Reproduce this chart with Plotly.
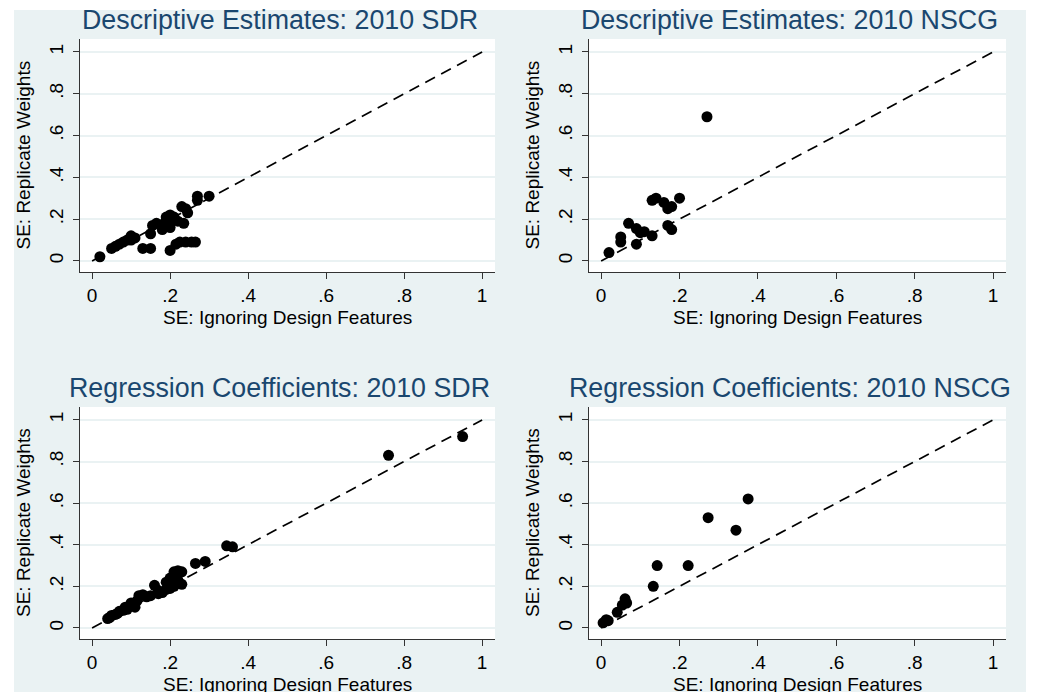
import plotly.graph_objects as go

# ---------------- data ----------------
desc_sdr_x = [0.02, 0.05, 0.06, 0.07, 0.08, 0.09, 0.10, 0.10, 0.11, 0.13, 0.15, 0.15, 0.155, 0.165,
              0.18, 0.185, 0.19, 0.20, 0.20, 0.205, 0.21, 0.20, 0.215, 0.225, 0.24, 0.255, 0.265,
              0.23, 0.24, 0.245, 0.235, 0.27, 0.30, 0.27, 0.22]
desc_sdr_y = [0.02, 0.06, 0.07, 0.08, 0.09, 0.10, 0.12, 0.10, 0.11, 0.06, 0.06, 0.13, 0.17, 0.18,
              0.15, 0.18, 0.21, 0.22, 0.16, 0.20, 0.21, 0.05, 0.08, 0.09, 0.09, 0.09, 0.09,
              0.26, 0.25, 0.23, 0.18, 0.31, 0.31, 0.29, 0.19]

desc_nscg_x = [0.02, 0.05, 0.05, 0.07, 0.09, 0.10, 0.09, 0.11, 0.13, 0.13, 0.14, 0.16, 0.17,
               0.18, 0.20, 0.17, 0.18, 0.27]
desc_nscg_y = [0.04, 0.115, 0.09, 0.18, 0.155, 0.135, 0.08, 0.14, 0.12, 0.29, 0.30, 0.28, 0.25,
               0.26, 0.30, 0.17, 0.15, 0.69]

reg_sdr_x = [0.04, 0.045, 0.05, 0.06, 0.065, 0.07, 0.08, 0.085, 0.09, 0.10, 0.10, 0.11, 0.115,
             0.12, 0.13, 0.14, 0.15, 0.16, 0.17, 0.17, 0.18, 0.19, 0.19, 0.20, 0.20, 0.21, 0.21,
             0.22, 0.22, 0.23, 0.23, 0.265, 0.29, 0.345, 0.36, 0.76, 0.95]
reg_sdr_y = [0.045, 0.05, 0.06, 0.065, 0.07, 0.08, 0.085, 0.10, 0.09, 0.11, 0.12, 0.10, 0.13,
             0.155, 0.16, 0.15, 0.155, 0.205, 0.165, 0.18, 0.17, 0.185, 0.22, 0.19, 0.24, 0.20, 0.27,
             0.23, 0.275, 0.27, 0.21, 0.31, 0.32, 0.395, 0.39, 0.83, 0.92]

reg_nscg_x = [0.005, 0.013, 0.018, 0.041, 0.054, 0.061, 0.065, 0.133, 0.143, 0.222, 0.273, 0.344, 0.375]
reg_nscg_y = [0.025, 0.04, 0.035, 0.075, 0.11, 0.14, 0.12, 0.20, 0.30, 0.30, 0.53, 0.47, 0.62]

diag_x = [0, 1]
diag_y = [0, 1]

tick_vals = [0, 0.2, 0.4, 0.6, 0.8, 1]
tick_text = ["0", ".2", ".4", ".6", ".8", "1"]

titles = ["Descriptive Estimates: 2010 SDR", "Descriptive Estimates: 2010 NSCG",
          "Regression Coefficients: 2010 SDR", "Regression Coefficients: 2010 NSCG"]
x_title = "SE: Ignoring Design Features"
y_title = "SE: Replicate Weights"

# ---------------- style ----------------
OFF = 8  # page body margin offset
W, H = 1042 - OFF, 692 - OFF
BG = "#EAF2F3"
NAVY = "#1A476F"
FONT = "Liberation Sans"


def fx(px):
    return (px - OFF) / W


def fy(py):
    return 1 - (py - OFF) / H


panels = [
    (desc_sdr_x, desc_sdr_y),
    (desc_nscg_x, desc_nscg_y),
    (reg_sdr_x, reg_sdr_y),
    (reg_nscg_x, reg_nscg_y),
]
# pixel boxes in screen coords (left, right, top, bottom)
boxes = [(80, 495, 39, 272), (589, 1006, 39, 272), (80, 495, 407, 639), (589, 1006, 407, 639)]

fig = go.Figure()
layout_axes = {}
annotations = []
for i, ((px, py), (l, r, t, b)) in enumerate(zip(panels, boxes)):
    n = "" if i == 0 else str(i + 1)
    fig.add_trace(go.Scatter(x=px, y=py, mode="markers", xaxis="x" + n, yaxis="y" + n,
                             marker=dict(color="black", size=11, line=dict(width=0)),
                             showlegend=False, hoverinfo="x+y"))
    fig.add_trace(go.Scatter(x=diag_x, y=diag_y, mode="lines", xaxis="x" + n, yaxis="y" + n,
                             line=dict(color="black", width=1.7, dash="11px,7px"),
                             showlegend=False, hoverinfo="skip"))
    axcommon = dict(tickvals=tick_vals, ticktext=tick_text, ticks="outside", ticklen=6,
                    tickwidth=1, tickcolor="#333333",
                    showline=True, linecolor="#333333",
                    linewidth=1, zeroline=False, tickfont=dict(family=FONT, size=19, color="black"),
                    fixedrange=True)
    layout_axes["xaxis" + n] = dict(axcommon, domain=[fx(l), fx(r)], range=[-0.031, 1.033],
                                    showgrid=False, anchor="y" + n)
    layout_axes["yaxis" + n] = dict(axcommon, domain=[fy(b), fy(t)], range=[-0.053, 1.062],
                                    showgrid=True, gridcolor=BG, gridwidth=1.5, tickangle=-90,
                                    anchor="x" + n, ticklabelstandoff=2)
    cx = (l + r) / 2
    cy = (t + b) / 2
    annotations.append(dict(text=titles[i], x=fx(cx - 8), y=fy(t - 19), xref="paper", yref="paper",
                            xanchor="center", yanchor="middle", showarrow=False,
                            font=dict(family=FONT, size=26.8, color=NAVY)))
    annotations.append(dict(text=x_title, x=fx(cx), y=fy(b + 45), xref="paper", yref="paper",
                            xanchor="center", yanchor="middle", showarrow=False,
                            font=dict(family=FONT, size=19, color="black")))
    annotations.append(dict(text=y_title, x=fx(l - 57), y=fy(cy), xref="paper", yref="paper",
                            xanchor="center", yanchor="middle", showarrow=False, textangle=-90,
                            font=dict(family=FONT, size=19, color="black")))

shapes = [dict(type="rect", xref="paper", yref="paper", x0=fx(14), x1=fx(1026), y0=0, y1=fy(10),
               fillcolor=BG, line=dict(width=0), layer="below")]
for (l, r, t, b) in boxes:
    shapes.append(dict(type="rect", xref="paper", yref="paper", x0=fx(l), x1=fx(r),
                       y0=fy(b), y1=fy(t), fillcolor="white", line=dict(width=0),
                       layer="below"))

fig.update_layout(width=W, height=H, margin=dict(l=0, r=0, t=0, b=0),
                  paper_bgcolor="white", plot_bgcolor="rgba(0,0,0,0)",
                  font=dict(family=FONT), annotations=annotations, shapes=shapes,
                  **layout_axes)

fig.write_html("out.html")
